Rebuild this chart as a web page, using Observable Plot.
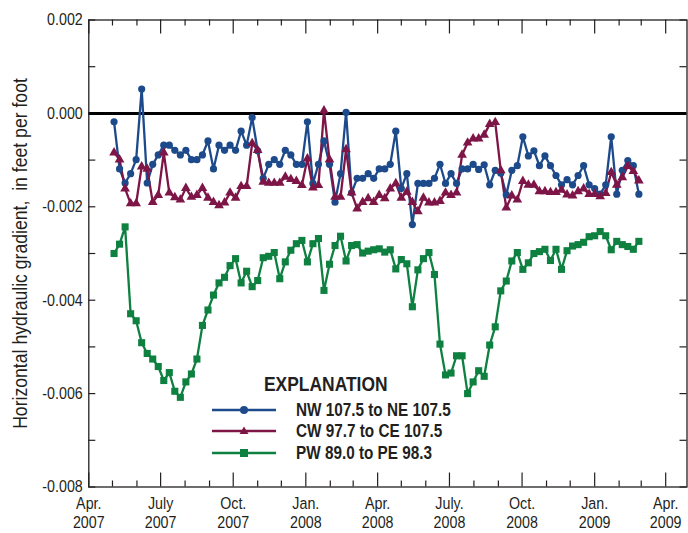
<!DOCTYPE html>
<html><head><meta charset="utf-8">
<script src="https://cdn.jsdelivr.net/npm/d3@7"></script>
<script src="https://cdn.jsdelivr.net/npm/@observablehq/plot@0.6"></script>
<style>
body{margin:0;background:#fff;}
#wrap{position:relative;width:688px;height:533px;font-family:"Liberation Sans",Arial,sans-serif;color:#231f20;}
#legend{position:absolute;left:0;top:0;}
#legend .title{position:absolute;left:264px;top:372px;font-size:20.5px;font-weight:bold;white-space:nowrap;transform:scaleX(0.85);transform-origin:0 0;}
#legend .row{position:absolute;left:210px;height:20px;white-space:nowrap;font-size:18px;font-weight:bold;}
#legend .row svg{position:absolute;left:0;top:0;}
#legend .row span{position:absolute;left:86px;top:-1px;line-height:22px;transform:scaleX(0.85);transform-origin:0 0;}
</style></head><body><div id="wrap"></div>
<script>
// Sampling dates (weekly measurements)
const dates = [
"2007-05-03","2007-05-10","2007-05-17","2007-05-24","2007-05-31",
"2007-06-07","2007-06-14","2007-06-21","2007-06-28",
"2007-07-05","2007-07-12","2007-07-19","2007-07-26",
"2007-08-02","2007-08-09","2007-08-16","2007-08-23","2007-08-30",
"2007-09-06","2007-09-13","2007-09-20","2007-09-27",
"2007-10-04","2007-10-11","2007-10-18","2007-10-25",
"2007-11-01","2007-11-08","2007-11-15","2007-11-22","2007-11-29",
"2007-12-06","2007-12-13","2007-12-20","2007-12-27",
"2008-01-03","2008-01-10","2008-01-17","2008-01-24","2008-01-31",
"2008-02-07","2008-02-14","2008-02-21","2008-02-28",
"2008-03-06","2008-03-13","2008-03-20","2008-03-27",
"2008-04-03","2008-04-10","2008-04-17","2008-04-24",
"2008-05-01","2008-05-08","2008-05-15","2008-05-22","2008-05-29",
"2008-06-05","2008-06-12","2008-06-19","2008-06-26",
"2008-07-03","2008-07-10","2008-07-17","2008-07-24","2008-07-31",
"2008-08-07","2008-08-14","2008-08-21","2008-08-28",
"2008-09-04","2008-09-11","2008-09-18","2008-09-25",
"2008-10-02","2008-10-09","2008-10-16","2008-10-23","2008-10-30",
"2008-11-06","2008-11-13","2008-11-20","2008-11-27",
"2008-12-04","2008-12-11","2008-12-18","2008-12-25",
"2009-01-01","2009-01-08","2009-01-15","2009-01-22","2009-01-29",
"2009-02-05","2009-02-12","2009-02-19","2009-02-26"];

// Gradients, in thousandths of a foot per foot
const nw = [-0.18,-1.19,-1.49,-1.29,-0.99,0.52,-1.49,-1.09,-0.89,-0.68,-0.68,-0.79,-0.89,-0.79,-0.99,-0.99,-0.89,-0.59,-1.19,-0.68,
-0.79,-0.68,-0.79,-0.38,-0.68,-0.09,-0.80,-1.39,-1.09,-0.99,-1.09,-0.79,-0.89,-1.09,-1.09,-0.18,-1.50,-1.09,-0.59,-1.09,
-1.90,-1.29,0.02,-1.70,-1.39,-1.39,-1.29,-1.39,-1.19,-1.19,-1.09,-0.38,-1.61,-1.29,-2.38,-1.50,-1.50,-1.50,-1.39,-1.09,
-1.50,-1.29,-1.50,-1.19,-1.19,-1.09,-1.20,-1.10,-1.53,-1.22,-1.28,-1.74,-1.22,-1.12,-0.50,-0.91,-0.80,-1.12,-0.91,-1.12,
-1.33,-1.53,-1.42,-1.53,-1.33,-1.12,-1.53,-1.61,-1.73,-1.53,-0.50,-1.73,-1.22,-1.01,-1.12,-1.73];
const cw = [-0.84,-0.99,-1.61,-1.93,-1.93,-1.14,-1.19,-1.90,-1.75,-0.84,-1.70,-1.80,-1.85,-1.60,-1.79,-1.75,-1.60,-1.81,-1.90,-1.97,
-1.91,-1.70,-1.81,-1.56,-1.56,-0.64,-0.79,-1.47,-1.49,-1.49,-1.49,-1.36,-1.41,-1.45,-1.54,-0.97,-1.59,-1.54,0.06,-0.99,
-1.79,-1.79,-0.77,-1.70,-2.04,-1.90,-1.82,-1.90,-1.75,-1.82,-1.61,-1.50,-1.81,-1.68,-1.90,-2.10,-1.81,-1.91,-1.91,-1.88,
-1.70,-1.75,-1.70,-0.89,-0.63,-0.54,-0.54,-0.46,-0.23,-0.19,-1.22,-2.02,-1.76,-1.85,-1.45,-1.53,-1.53,-1.67,-1.67,-1.69,
-1.69,-1.64,-1.74,-1.76,-1.67,-1.61,-1.73,-1.73,-1.78,-1.71,-1.26,-1.53,-1.37,-1.13,-1.24,-1.44];
const pw = [-3.00,-2.80,-2.43,-4.29,-4.44,-4.91,-5.14,-5.26,-5.42,-5.72,-5.55,-5.95,-6.08,-5.75,-5.58,-5.26,-4.54,-4.21,-3.89,-3.63,
-3.51,-3.26,-3.11,-3.63,-3.38,-3.71,-3.58,-3.09,-3.06,-2.98,-3.54,-3.18,-2.93,-2.79,-2.72,-3.18,-2.79,-2.68,-3.79,-3.23,
-2.83,-2.63,-3.16,-2.83,-2.81,-2.99,-2.95,-2.92,-2.90,-2.97,-2.92,-3.33,-3.13,-3.22,-4.14,-3.35,-3.11,-2.98,-3.45,-4.94,
-5.60,-5.56,-5.19,-5.19,-6.00,-5.75,-5.51,-5.63,-4.96,-4.57,-3.80,-3.59,-3.16,-2.98,-3.34,-3.20,-3.00,-2.96,-2.91,-3.15,
-2.91,-3.34,-2.94,-2.84,-2.81,-2.76,-2.64,-2.62,-2.53,-2.62,-2.92,-2.74,-2.81,-2.85,-2.91,-2.74];

const seriesNames = ["NW 107.5 to NE 107.5","CW 97.7 to CE 107.5","PW 89.0 to PE 98.3"];
const seriesColors = ["#1d4a8b","#7e1547","#0e8040"];
const seriesSymbols = ["circle","triangle","square"];

const xTickDates = ["2007-04-01","2007-07-01","2007-10-01","2008-01-01","2008-04-01","2008-07-01","2008-10-01","2009-01-01","2009-04-01"];
const xTickLabels = ["Apr.\n2007","July\n2007","Oct.\n2007","Jan.\n2008","Apr.\n2008","July.\n2008","Oct.\n2008","Jan.\n2009","Apr.\n2009"];
const yTickValues = [0.002,0,-0.002,-0.004,-0.006,-0.008];
const yMinorValues = [0.001,-0.001,-0.003,-0.005,-0.007];
const yTitle = "Horizontal hydraulic gradient,  in feet per foot";
const legendTitle = "EXPLANATION";

const W = 688, H = 533, mL = 88.3, mR = 1.5, mT = 19.5, mB = 46.5;
const plotW = W - mL - mR, plotH = H - mT - mB;
const xDomain = [new Date("2007-04-01"), new Date("2009-04-28")];
const majorX = xTickDates.map(d => new Date(d));
const minorX = d3.utcMonth.range(xDomain[0], xDomain[1]).filter(d => !majorX.some(m => +m === +d));
const labelMap = new Map(majorX.map((d, i) => [+d, xTickLabels[i]]));

const allSeries = [nw, cw, pw];
const rows = allSeries.map((vals, s) => vals.map((v, i) => ({date: new Date(dates[i]), value: v / 1000, s})));

const ink = "#231f20";
const marks = [];
// inward ticks on all four sides
marks.push(Plot.tickX(majorX, {x: d => d, insetTop: plotH - 14, stroke: ink, strokeWidth: 1.2}));
marks.push(Plot.tickX(minorX, {x: d => d, insetTop: plotH - 6, stroke: ink, strokeWidth: 1.2}));
marks.push(Plot.tickX(majorX, {x: d => d, insetBottom: plotH - 14, stroke: ink, strokeWidth: 1.2}));
marks.push(Plot.tickX(minorX, {x: d => d, insetBottom: plotH - 6, stroke: ink, strokeWidth: 1.2}));
marks.push(Plot.tickY(yTickValues, {y: d => d, insetRight: plotW - 7, stroke: ink, strokeWidth: 1.2}));
marks.push(Plot.tickY(yMinorValues, {y: d => d, insetRight: plotW - 7, stroke: ink, strokeWidth: 1.2}));
marks.push(Plot.tickY(yTickValues, {y: d => d, insetLeft: plotW - 7, stroke: ink, strokeWidth: 1.2}));
marks.push(Plot.tickY(yMinorValues, {y: d => d, insetLeft: plotW - 7, stroke: ink, strokeWidth: 1.2}));
marks.push(Plot.ruleY([0], {stroke: "#000", strokeWidth: 3}));
rows.forEach((r, s) => {
  marks.push(Plot.line(r, {x: "date", y: "value", stroke: seriesColors[s], strokeWidth: 2.3}));
});
rows.forEach((r, s) => {
  marks.push(Plot.dot(r, {x: "date", y: "value", fill: seriesColors[s], symbol: seriesSymbols[s],
    r: s === 0 ? 3.6 : s === 1 ? 3.6 : 4.0, stroke: "none"}));
});
marks.push(Plot.frame({stroke: ink, strokeWidth: 1.3}));
marks.push(Plot.axisX(majorX, {tickSize: 0, tickPadding: 8, tickFormat: d => labelMap.get(+d), fontSize: 17, lineHeight: 1.15, label: null}));
marks.push(Plot.axisY(yTickValues, {tickSize: 0, tickPadding: 6, tickFormat: d => d.toFixed(3), fontSize: 17, label: null}));
marks.push(Plot.text([yTitle], {frameAnchor: "left", textAnchor: "middle", dx: -69, rotate: -90, fontSize: 21, fill: ink}));

const chart = Plot.plot({
  width: W, height: H,
  marginLeft: mL, marginRight: mR, marginTop: mT, marginBottom: mB,
  x: {type: "utc", domain: xDomain},
  y: {domain: [-0.008, 0.002]},
  style: {fontFamily: '"Liberation Sans",Arial,sans-serif', color: ink, background: "white", overflow: "visible"},
  marks
});
// condensed look: squeeze text horizontally around its own anchor
chart.querySelectorAll("text").forEach(t => {
  const tr = t.getAttribute("transform") || "";
  t.setAttribute("transform", tr + " scale(0.84,1)");
});
const wrap = document.getElementById("wrap");
wrap.appendChild(chart);

// legend (explanation) placed inside the plot area
const legend = document.createElement("div");
legend.id = "legend";
let html = `<div class="title">${legendTitle}</div>`;
const rowTops = [400, 421, 443];
seriesNames.forEach((name, s) => {
  const c = seriesColors[s];
  let sym;
  if (s === 0) sym = `<circle cx="34" cy="10" r="4" fill="${c}"/>`;
  else if (s === 1) sym = `<path d="M34,5.5 L38.5,13 L29.5,13 Z" fill="${c}"/>`;
  else sym = `<rect x="30" y="6" width="8" height="8" fill="${c}"/>`;
  html += `<div class="row" style="top:${rowTops[s]}px"><svg width="70" height="20"><line x1="2" x2="66" y1="10" y2="10" stroke="${c}" stroke-width="2.3"/>${sym}</svg><span>${name}</span></div>`;
});
legend.innerHTML = html;
wrap.appendChild(legend);
</script>
</body></html>
